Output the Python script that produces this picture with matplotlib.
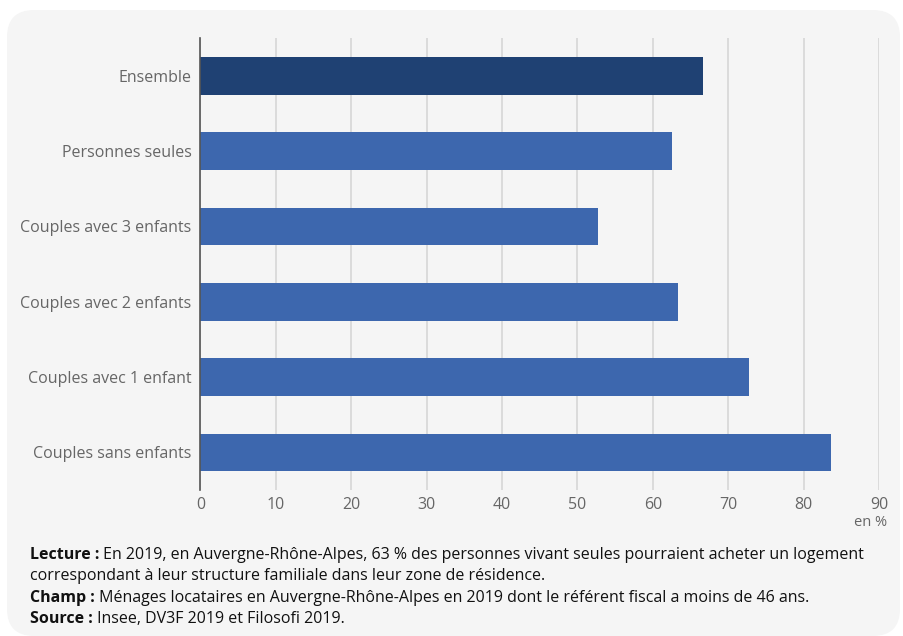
import matplotlib
matplotlib.use("Agg")
import matplotlib.pyplot as plt
from matplotlib.patches import FancyBboxPatch

categories = ["Ensemble", "Personnes seules", "Couples avec 3 enfants",
              "Couples avec 2 enfants", "Couples avec 1 enfant", "Couples sans enfants"]
values = [66.7, 62.5, 52.7, 63.3, 72.8, 83.6]
colors = ["#1f4173", "#3d67ae", "#3d67ae", "#3d67ae", "#3d67ae", "#3d67ae"]
xticks = [0, 10, 20, 30, 40, 50, 60, 70, 80, 90]

plt.rcParams['font.family'] = ['Open Sans', 'DejaVu Sans']

fig = plt.figure(figsize=(9.04, 6.36), dpi=100)
fig.patch.set_facecolor("white")
panel = FancyBboxPatch((7/904, 0), 893/904, 626/636,
                       boxstyle="round,pad=0,rounding_size=0.03",
                       transform=fig.transFigure, facecolor="#f5f5f5",
                       edgecolor="none", zorder=-10, mutation_aspect=904/636)
fig.patches.append(panel)

ax = fig.add_axes([200.5/904, 1-490/636, 678.5/904, 452/636])
ax.set_zorder(2)
ax.set_facecolor("none")
y = list(range(len(categories)))
ax.barh(y, values, height=0.5, color=colors, zorder=3)
ax.set_ylim(len(categories)-0.5, -0.5)
ax.set_xlim(0, 90)
ax.set_yticks(y)
ax.set_yticklabels(categories, fontsize=11.5, color="#666666")
ax.set_xticks(xticks)
ax.set_xticklabels([str(t) for t in xticks], fontsize=11.5, color="#666666")
ax.tick_params(axis='y', length=0, pad=6.5)
ax.tick_params(axis='x', length=0, pad=5)
ax.grid(axis='x', color="#d9d9d9", linewidth=1.3, zorder=0)
ax.grid(axis='y', visible=False)
ax.set_axisbelow(True)
for s in ["top", "right", "bottom"]:
    ax.spines[s].set_visible(False)
ax.spines["left"].set_color("#555555")
ax.spines["left"].set_linewidth(1.2)
ax.spines["left"].set_zorder(4)

fig.text(887/904, 1-523/636, "en %", ha="right", va="center", fontsize=10.5, color="#666666")

lines = [
    ("Lecture :", " En 2019, en Auvergne-Rhône-Alpes, 63 % des personnes vivant seules pourraient acheter un logement"),
    (None, "correspondant à leur structure familiale dans leur zone de résidence."),
    ("Champ :", " Ménages locataires en Auvergne-Rhône-Alpes en 2019 dont le référent fiscal a moins de 46 ans."),
    ("Source :", " Insee, DV3F 2019 et Filosofi 2019."),
]
ys = [555, 576, 598, 619]
fs = 11.5
renderer = fig.canvas.get_renderer()
for (b, t), yy in zip(lines, ys):
    x0 = 30/904
    if b:
        tb = fig.text(x0, 1-yy/636, b, ha="left", va="center", fontsize=fs,
                      fontweight="bold", color="#111111")
        bb = tb.get_window_extent(renderer=renderer)
        x0 = bb.x1 / 904
    fig.text(x0, 1-yy/636, t, ha="left", va="center", fontsize=fs, color="#111111")

fig.savefig("out.png", dpi=100, facecolor="white")
